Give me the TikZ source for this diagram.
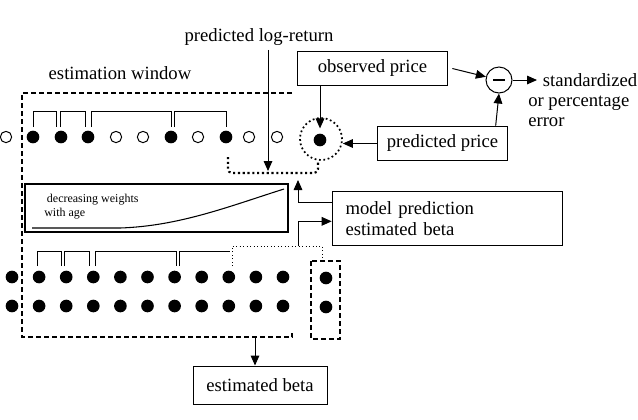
\documentclass[tikz,border=0pt]{standalone}
\usepackage{fontspec}
\setmainfont{Liberation Serif}
\usetikzlibrary{arrows.meta,calc}
\begin{document}
\begin{tikzpicture}[x=0.75pt,y=-0.75pt,
  txt/.style={font=\fontsize{14}{15}\selectfont, inner sep=0pt},
  boxn/.style={draw, line width=0.75pt, font=\fontsize{14}{16}\selectfont},
  arr/.style={-{Triangle[length=7.5pt,width=6.5pt]}, line width=0.75pt},
  dotf/.style={circle,fill,inner sep=0pt,minimum size=9.5pt},
  doto/.style={circle,draw,line width=0.75pt,inner sep=0pt,minimum size=8.5pt},
  brk/.style={line width=0.6pt},
  win/.style={line width=0.8pt, dash pattern=on 3.5pt off 2.5pt},
  ]
\useasboundingbox (0,0) rectangle (638,419);

% texts
\node[txt] (plr) at (259,37) {predicted log-return};
\node[txt] (ew) at (120,73) {estimation window};
\node[txt, align=left, anchor=west] (err) at (528,100) {\hspace*{11pt}standardized\\or percentage\\error};

% boxes
\node[boxn, minimum width=113pt, minimum height=25pt] (obs) at (372.5,68.5) {observed price};
\node[boxn, minimum width=97pt, minimum height=26pt] (pp) at (442.5,143.5) {predicted price};
\node[boxn, minimum width=173pt, minimum height=40pt, inner xsep=10pt, text width=153pt, align=left] (mp) at (447.5,218.5) {model prediction\\estimated beta};
\node[boxn, minimum width=100.5pt, minimum height=28.5pt] (eb) at (260,385) {estimated beta};

% minus circle
\node[circle, draw, line width=0.75pt, minimum size=19.5pt, inner sep=0pt] (minus) at (499,80) {};
\draw[line width=2pt] ($(minus.center)+(-6,0)$) -- ($(minus.center)+(6,0)$);

% dotted circle with predicted point
\node[circle, draw, dotted, line width=1.3pt, minimum size=31.5pt, inner sep=0pt] (dc) at (321,139) {};
\node[dotf] (dcin) at (320,140) {};

% estimation window
\draw[win] (292,93) -- (22,93) -- (22,337) -- (292,337) -- (292,333);
\draw[win] (311,261) rectangle (340,339);

% top row
\foreach \x/\k [count=\i] in {6/doto,33/dotf,61/dotf,88/dotf,116/doto,143/doto,171/dotf,198/doto,226/dotf,249/doto,277/doto}
  \node[\k] (t\i) at (\x,137) {};
\foreach \a/\b in {33/56, 60/85, 91/171, 174/226}
  \draw[brk] (\a,127) -- (\a,111) -- (\b,111) -- (\b,127);

% lower rows
\foreach \i in {0,...,10} {
  \node[dotf] (ra\i) at ({12+27.1*\i},277) {};
  \node[dotf] (rb\i) at ({12+27.1*\i},306) {};
}
\node[dotf] (sa) at (326,278) {};
\node[dotf] (sb) at (326,307) {};
\foreach \a/\b in {37/61, 64/89, 95/176}
  \draw[brk] (\a,266) -- (\a,251) -- (\b,251) -- (\b,266);
\draw[brk] (179,266) -- (179,251) -- (230,251);
\draw[line width=0.6pt, dotted] (232,266) -- (232,246) -- (322,246) -- (322,261);

% weights box
\draw[line width=0.8pt] (25,184) rectangle (288,232);
\draw[line width=0.8pt] (32,228) -- (120,228) .. controls (180,226) and (230,206) .. (284,189);
\node[font=\fontsize{9}{10.5}\selectfont, align=left, anchor=west, inner sep=0pt] (dw) at (44,207) {\hspace*{2pt}decreasing weights\\with age};

% thick dotted feedback
\coordinate (pj) at (268,171);
\draw[line width=1.6pt, dotted, rounded corners=3pt] (228,157) -- (228,173) -- (318,173) -- (318,161);

% arrows
\draw[arr] (plr.south -| pj) ++(0,4) -- (pj);
\draw[arr] (obs.south -| dcin) -- ($(dcin.north)+(0,-5)$);
\draw[arr] ($(obs.east)+(4,0)$) -- (minus);
\coordinate (me) at (537,80);
\draw[arr] (minus.east) -- (me);
\draw[arr] (pp.west) -- (pp.west -| dc.east);
\draw[arr] ($(pp.north east)+(-12,0)$) -- (minus.south);
\coordinate (ju) at (298,180);
\draw[arr] ($(mp.north west)+(0,11)$) -| (ju);
\coordinate (jl) at (298,246);
\draw[arr] (jl) |- ($(mp.north west)+(0,30)$);
\coordinate (wb) at (255,337);
\draw[arr] (wb) -- (wb |- eb.north);
\end{tikzpicture}
\end{document}
